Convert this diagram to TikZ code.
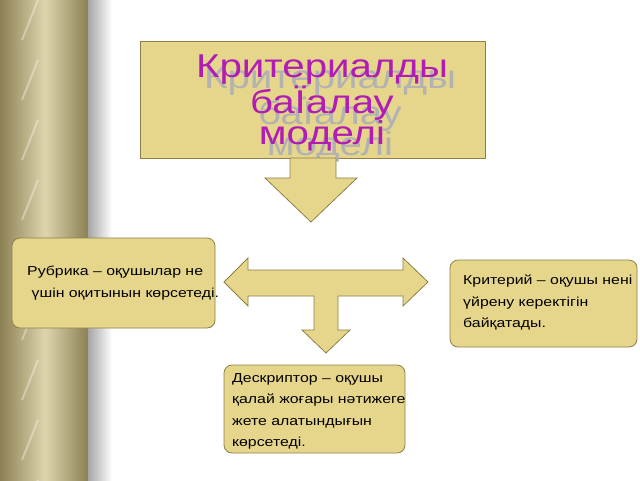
\documentclass[tikz,border=0pt]{standalone}
\usepackage{fontspec}
\setmainfont{Liberation Sans}
\newfontfamily\wide[FakeStretch=1.22]{Liberation Sans}
\definecolor{tan}{HTML}{E6D68C}
\definecolor{tanline}{HTML}{8C8048}
\definecolor{gold}{HTML}{C8B878}
\definecolor{titlepink}{HTML}{B01CB4}
\tikzset{
  box/.style={draw=tanline, fill=tan, line width=0.8pt},
  note/.style={align=left, font=\wide\fontsize{13}{21.5}\selectfont, anchor=north west, inner sep=0pt},
  heading/.style={font=\wide\fontsize{33}{31.5}\selectfont, align=center}
}
\begin{document}
\begin{tikzpicture}[x=1pt, y=-1pt]
\useasboundingbox (0,0) rectangle (640,480);
\fill[white] (0,0) rectangle (640,480);

% left pillar
\shade[left color=gold!70!black, right color=gold!60!white] (0,0) rectangle (45,480);
\shade[left color=gold!60!white, right color=gold!70!black] (45,0) rectangle (88,480);
\shade[left color=gray!70, right color=white] (88,0) rectangle (112,480);
\foreach \y in {0,60,...,480}
  \draw[white, opacity=0.35, line width=2pt] (22,\y+40) -- (38,\y);

% title box
\draw[box] (140,41) rectangle (485,158);
\node[heading, text=gray!60] (shadow) at (330,114) {Критериалды\\баЇалау\\моделі};
\node[heading, text=titlepink] (title) at (322,103) {Критериалды\\баЇалау\\моделі};

% down arrow
\draw[box] (290,158) -- (336,158) -- (336,178) -- (357,178) -- (311,222)
  -- (265,178) -- (290,178) -- cycle;

% T arrow
\draw[box] (224,282) -- (248,258) -- (248,270) -- (403,270) -- (403,258) -- (428,282)
  -- (403,306) -- (403,296) -- (338,296) -- (338,330) -- (350,330) -- (326,353)
  -- (302,330) -- (314,330) -- (314,296) -- (248,296) -- (248,306) -- cycle;

% side boxes
\draw[box, rounded corners=8pt] (12,238) rectangle (215,328);
\node[note] (rubric) at (27,266) {Рубрика – оқушылар не\\ \ үшін оқитынын көрсетеді.};

\draw[box, rounded corners=8pt] (450,260) rectangle (637,347);
\node[note] (crit) at (463,275) {Критерий – оқушы нені\\үйрену керектігін\\байқатады.};

\draw[box, rounded corners=8pt] (224,365) rectangle (405,453);
\node[note] (descr) at (232,373) {Дескриптор – оқушы\\қалай жоғары нәтижеге\\жете алатындығын\\көрсетеді.};
\end{tikzpicture}
\end{document}
